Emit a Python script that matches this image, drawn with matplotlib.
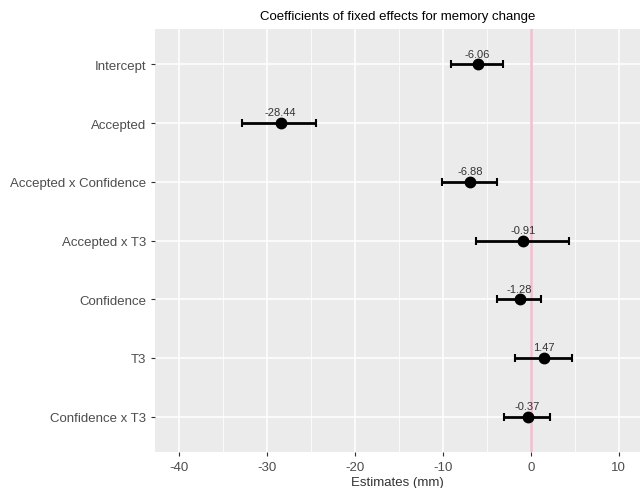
import numpy as np
import matplotlib
matplotlib.use('Agg')
from matplotlib import pyplot as plt
from matplotlib.ticker import MultipleLocator

# Model terms, top to bottom
terms = ['Intercept', 'Accepted', 'Accepted x Confidence', 'Accepted x T3',
         'Confidence', 'T3', 'Confidence x T3']
estimates = [-6.06, -28.44, -6.88, -0.91, -1.28, 1.47, -0.37]
ci_low = [-9.1, -32.8, -10.1, -6.2, -3.9, -1.8, -3.1]
ci_high = [-3.2, -24.4, -3.9, 4.3, 1.2, 4.7, 2.2]

plt.rcParams['font.family'] = ['Liberation Sans', 'DejaVu Sans']
plt.rcParams['axes.unicode_minus'] = False

fig = plt.figure(figsize=(6.44, 4.89), dpi=100)
ax = fig.add_axes([155 / 644, 36 / 489, 485 / 644, 423 / 489])
ax.set_facecolor('#EBEBEB')
for s in ax.spines.values():
    s.set_visible(False)

# terms plotted top-down: first term at the top
ypos = np.arange(len(terms))[::-1] + 1

ax.set_xlim(-42.7, 12.4)
ax.set_ylim(0.4, len(terms) + 0.6)
ax.xaxis.set_major_locator(MultipleLocator(10))
ax.xaxis.set_minor_locator(MultipleLocator(5))
ax.grid(which='major', color='white', linewidth=1.1)
ax.grid(which='minor', axis='x', color='white', linewidth=0.55)
ax.set_axisbelow(True)

ax.axvline(0, color='#F2BDD3', linewidth=1.8, zorder=1)

est = np.array(estimates)
xerr = [est - np.array(ci_low), np.array(ci_high) - est]
ax.errorbar(est, ypos, xerr=xerr, fmt='o', color='black', markersize=7.5,
            elinewidth=2, capsize=3, capthick=1.5, zorder=3)

for x, y in zip(estimates, ypos):
    ax.annotate(f'{x:.2f}', (x, y), xytext=(0, 4), textcoords='offset points',
                ha='center', va='bottom', fontsize=8, color='#333333')

ax.set_yticks(ypos)
ax.set_yticklabels(terms)
ax.tick_params(axis='both', which='major', length=3, color='#333333',
               labelsize=9.5, labelcolor='#4D4D4D', width=0.8)
ax.tick_params(axis='x', which='minor', length=0)

ax.set_xlabel('Estimates (mm)', fontsize=9.5, color='#333333', labelpad=2)
ax.set_title('Coefficients of fixed effects for memory change', fontsize=9.5,
             color='black', pad=7)

fig.savefig('out.png', dpi=100)
